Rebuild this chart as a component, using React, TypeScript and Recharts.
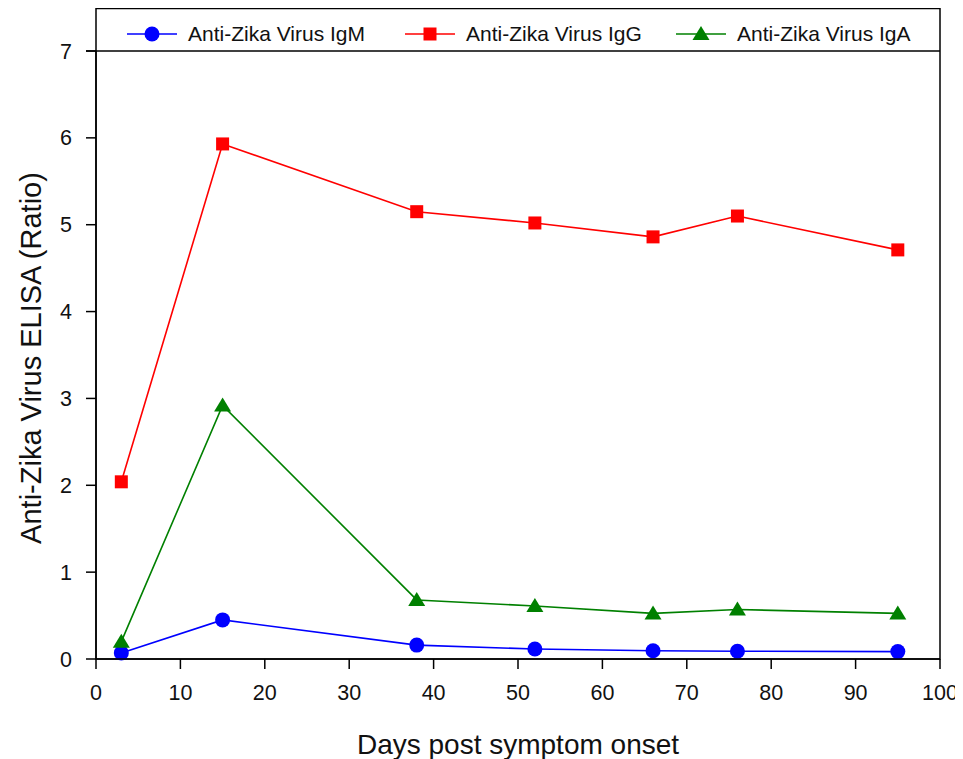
import React from 'react';
import { LineChart, Line, XAxis, YAxis } from 'recharts';

const days = [3, 15, 38, 52, 66, 76, 95];
const igM = [0.07, 0.45, 0.16, 0.115, 0.095, 0.09, 0.085];
const igG = [2.04, 5.93, 5.15, 5.02, 4.86, 5.1, 4.71];
const igA = [0.2, 2.92, 0.68, 0.61, 0.525, 0.57, 0.525];
const xTicks = [0, 10, 20, 30, 40, 50, 60, 70, 80, 90, 100];
const yTicks = [0, 1, 2, 3, 4, 5, 6, 7];
const seriesNames = ['Anti-Zika Virus IgM', 'Anti-Zika Virus IgG', 'Anti-Zika Virus IgA'];
const xTitle = 'Days post symptom onset';
const yTitle = 'Anti-Zika Virus ELISA (Ratio)';

const data = days.map((d, i) => ({ day: d, igM: igM[i], igG: igG[i], igA: igA[i] }));

const W = 955;
const H = 751;
const M = { top: 43, right: 23, left: 0, bottom: 0 };
const YW = 88;
const XH = H - M.top - 608;
const plotL = M.left + YW;
const plotR = W - M.right;
const plotT = M.top;
const plotB = H - M.bottom - XH;
const font = '"Liberation Sans", Arial, sans-serif';

type Shape = 'circle' | 'square' | 'triangle';

const Marker = ({ cx, cy, shape, color }: { cx: number; cy: number; shape: Shape; color: string }) => {
  if (cx == null || cy == null) return null;
  if (shape === 'circle') return <circle cx={cx} cy={cy} r={7.5} fill={color} />;
  if (shape === 'square') return <rect x={cx - 6.5} y={cy - 6.5} width={13} height={13} fill={color} />;
  return <polygon points={`${cx},${cy - 8} ${cx - 8.5},${cy + 6} ${cx + 8.5},${cy + 6}`} fill={color} />;
};

const series: { key: string; name: string; color: string; shape: Shape }[] = [
  { key: 'igM', name: seriesNames[0], color: '#0000ff', shape: 'circle' },
  { key: 'igG', name: seriesNames[1], color: '#ff0000', shape: 'square' },
  { key: 'igA', name: seriesNames[2], color: '#008000', shape: 'triangle' },
];

const legendX = [119, 397, 668];

export default function App() {
  return (
    <div style={{ position: 'relative', width: W, height: H }}>
      <LineChart width={W} height={H} data={data} margin={M}>
        <XAxis
          dataKey="day"
          type="number"
          domain={[0, 100]}
          ticks={xTicks}
          height={XH}
          tickSize={10}
          tickMargin={16}
          axisLine={{ stroke: '#000', strokeWidth: 1.5 }}
          tickLine={{ stroke: '#000', strokeWidth: 1.5 }}
          tick={{ fill: '#111', fontSize: 21.5, fontFamily: font }}
          interval={0}
        />
        <YAxis
          type="number"
          domain={[0, 7]}
          ticks={yTicks}
          width={YW}
          tickSize={10}
          tickMargin={14}
          axisLine={{ stroke: '#000', strokeWidth: 1.5 }}
          tickLine={{ stroke: '#000', strokeWidth: 1.5 }}
          tick={{ fill: '#111', fontSize: 21.5, fontFamily: font }}
          interval={0}
        />
        {series.map((s) => (
          <Line
            key={s.key}
            dataKey={s.key}
            name={s.name}
            stroke={s.color}
            strokeWidth={1.6}
            isAnimationActive={false}
            dot={(p: any) => <Marker key={`${s.key}-${p.index}`} cx={p.cx} cy={p.cy} shape={s.shape} color={s.color} />}
            activeDot={false}
          />
        ))}
      </LineChart>
      <svg
        width={W}
        height={H}
        style={{ position: 'absolute', left: 0, top: 0, pointerEvents: 'none' }}
      >
        <rect x={plotL} y={0.5} width={plotR - plotL} height={plotB - 0.5} fill="none" stroke="#000" strokeWidth={1.5} />
        <line x1={plotL - 10} x2={plotR} y1={plotT} y2={plotT} stroke="#000" strokeWidth={1.5} />
        {series.map((s, i) => (
          <g key={s.key}>
            <line x1={legendX[i]} x2={legendX[i] + 50} y1={26} y2={26} stroke={s.color} strokeWidth={1.6} />
            <Marker cx={legendX[i] + 25} cy={26} shape={s.shape} color={s.color} />
            <text x={legendX[i] + 61} y={26} dy="0.355em" fontSize={21} fontFamily={font} fill="#111">
              {s.name}
            </text>
          </g>
        ))}
        <text x={(plotL + plotR) / 2} y={745.5} textAnchor="middle" fontSize={28} fontFamily={font} fill="#111">
          {xTitle}
        </text>
        <text
          x={0}
          y={0}
          transform={`translate(32.5, ${(plotT + plotB) / 2 + 3}) rotate(-90)`}
          textAnchor="middle"
          fontSize={29}
          fontFamily={font}
          fill="#111"
        >
          {yTitle}
        </text>
      </svg>
    </div>
  );
}
